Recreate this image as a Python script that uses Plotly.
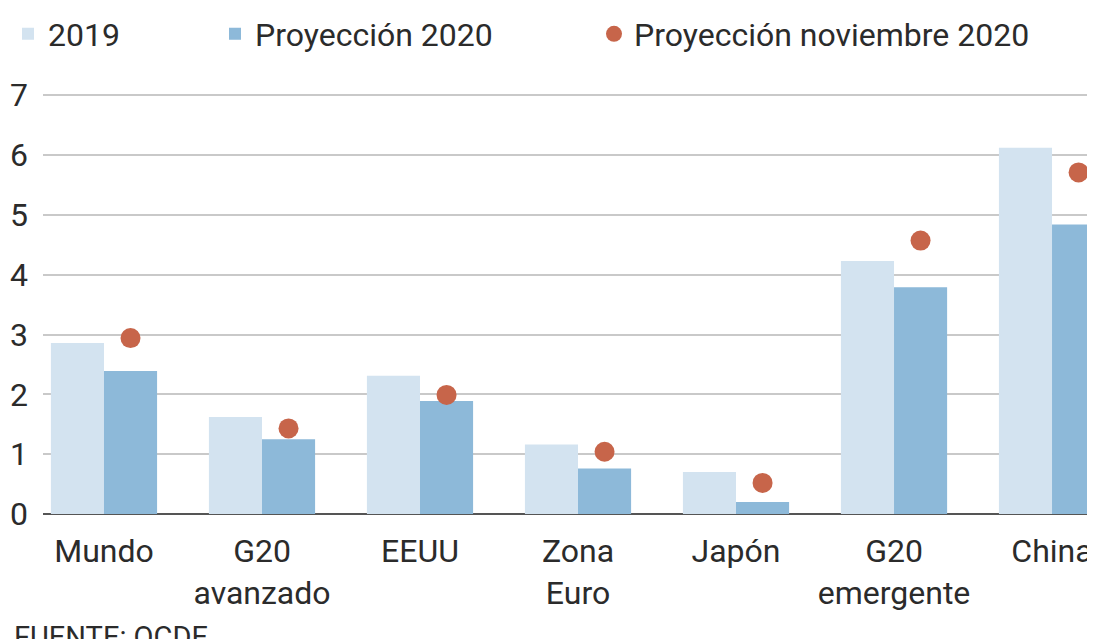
import plotly.graph_objects as go

# the page body adds an 8px margin, so the figure is drawn 8px smaller
WIDTH = 1087
HEIGHT = 631
FONT = "Roboto, Arial, sans-serif"
TEXT_COLOR = "#2b2b2b"

# Data (crecimiento, %)
regiones = ["Mundo", "G20<br>avanzado", "EEUU", "Zona<br>Euro", "Japón", "G20<br>emergente", "China"]
valores_2019 = [2.86, 1.62, 2.31, 1.16, 0.70, 4.23, 6.12]
proyeccion_2020 = [2.39, 1.25, 1.89, 0.76, 0.20, 3.79, 4.84]
proyeccion_nov_2020 = [2.94, 1.43, 1.99, 1.04, 0.52, 4.57, 5.71]

BAR_W = 0.336
idx = list(range(len(regiones)))

fig = go.Figure()

fig.add_trace(go.Bar(
    x=idx, y=valores_2019, name="2019",
    width=BAR_W, offset=-BAR_W,
    marker=dict(color="#d3e3f0", line=dict(width=0)),
    legend="legend",
))
fig.add_trace(go.Bar(
    x=idx, y=proyeccion_2020, name="Proyección 2020",
    width=BAR_W, offset=0,
    marker=dict(color="#8db9d9", line=dict(width=0)),
    legend="legend2",
))
# dots sit over the 2020 bar
fig.add_trace(go.Scatter(
    x=[i + BAR_W / 2 for i in idx], y=proyeccion_nov_2020,
    name="Proyección noviembre 2020", mode="markers",
    marker=dict(color="#c7654a", size=20),
    legend="legend3",
))

legend_common = dict(
    orientation="h", xref="container", yref="container",
    y=1 - 26 / HEIGHT, yanchor="middle", xanchor="left",
    font=dict(family=FONT, size=32, color=TEXT_COLOR),
    bgcolor="rgba(0,0,0,0)", borderwidth=0,
)

fig.update_layout(
    width=WIDTH,
    height=HEIGHT,
    margin=dict(l=35, r=0, t=86, b=125),
    plot_bgcolor="white",
    paper_bgcolor="white",
    font=dict(family=FONT, size=32, color=TEXT_COLOR),
    barmode="overlay",
    showlegend=True,
    legend=dict(legend_common, x=-6 / WIDTH),
    legend2=dict(legend_common, x=207 / WIDTH),
    legend3=dict(legend_common, x=586 / WIDTH),
    xaxis=dict(
        range=[-0.386, 6.272],
        tickmode="array",
        tickvals=idx,
        ticktext=regiones,
        showgrid=False,
        zeroline=False,
        showline=False,
        ticks="",
        automargin=False,
        ticklabeloverflow="allow",
        ticklabelstandoff=15,
        tickfont=dict(family=FONT, size=32, color=TEXT_COLOR),
    ),
    yaxis=dict(
        range=[0, 7.02],
        tickvals=[0, 1, 2, 3, 4, 5, 6, 7],
        showgrid=True,
        gridcolor="#c9c9c9",
        gridwidth=2,
        zeroline=True,
        zerolinecolor="#555555",
        zerolinewidth=2,
        showline=False,
        ticks="",
        automargin=False,
        ticklabelstandoff=14,
        tickfont=dict(family=FONT, size=32, color=TEXT_COLOR),
    ),
    annotations=[dict(
        text="FUENTE: OCDE",
        xref="paper", yref="paper",
        x=0, y=0, xanchor="left", yanchor="top",
        xshift=-31, yshift=-104,
        showarrow=False,
        font=dict(family=FONT, size=29, color=TEXT_COLOR),
    )],
)

fig.write_html("out.html")
